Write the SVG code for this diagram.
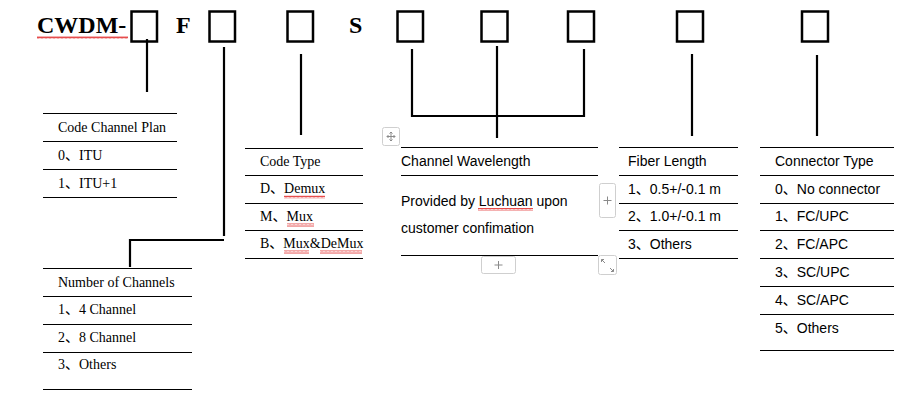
<svg xmlns="http://www.w3.org/2000/svg" width="922" height="402" viewBox="0 0 922 402">
<style>
.bg{fill:#ffffff}
.box{fill:none;stroke:#000;stroke-width:2.5}
.conn{fill:none;stroke:#000;stroke-width:2.2}
.rule{stroke:#000;stroke-width:1.2}
.title{font-family:"Liberation Serif","Times New Roman",serif;font-weight:bold;font-size:24px;fill:#000}
.serif{font-family:"Liberation Serif","Noto Sans CJK SC",serif;font-size:14px;fill:#000}
.sans{font-family:"Liberation Sans","Noto Sans CJK SC",sans-serif;font-size:14px;fill:#000}
.wavy{fill:url(#wave)}
.ui{fill:#fff;stroke:#cfcfcf;stroke-width:1}
.uimark{fill:none;stroke:#8a8a8a;stroke-width:1}
</style>
<defs>
<pattern id="wave" x="0" y="0" width="4" height="3" patternUnits="userSpaceOnUse">
<polyline points="0,2.5 1,0.5 2,2.5 3,0.5 4,2.5" fill="none" stroke="#e02020" stroke-width="0.8"/>
</pattern>
</defs>
<rect class="bg" x="0" y="0" width="922" height="402"/>

<g id="title">
<text class="title" x="37" y="33">CWDM-</text>
<rect class="wavy" x="37" y="36" width="91" height="3"/>
<text class="title" x="176" y="33">F</text>
<text class="title" x="349" y="33">S</text>
</g>

<g id="box1"><rect class="box" x="131.5" y="11.5" width="25.5" height="30"/></g>
<g id="box2"><rect class="box" x="209.5" y="11.5" width="25.5" height="30"/></g>
<g id="box3"><rect class="box" x="287.5" y="11.5" width="25.5" height="30"/></g>
<g id="box4"><rect class="box" x="397.5" y="11.5" width="25.5" height="30"/></g>
<g id="box5"><rect class="box" x="481.5" y="11.5" width="26" height="30"/></g>
<g id="box6"><rect class="box" x="568" y="11.5" width="26" height="30"/></g>
<g id="box7"><rect class="box" x="677" y="11.5" width="26" height="30"/></g>
<g id="box8"><rect class="box" x="802" y="11.5" width="26" height="30"/></g>

<g id="connectors">
<path class="conn" d="M147,39 V92"/>
<path class="conn" d="M224,47 V236"/>
<path class="conn" d="M224,240 H130 V267"/>
<path class="conn" d="M301,54 V135"/>
<path class="conn" d="M412,49 V116 H584 V49"/>
<path class="conn" d="M497,46 V138"/>
<path class="conn" d="M692,54 V136"/>
<path class="conn" d="M817,55 V136"/>
</g>

<g id="table-code-channel-plan">
<line class="rule" x1="43" y1="113.5" x2="177" y2="113.5"/>
<line class="rule" x1="43" y1="141.5" x2="177" y2="141.5"/>
<line class="rule" x1="43" y1="169.5" x2="177" y2="169.5"/>
<line class="rule" x1="43" y1="197.5" x2="177" y2="197.5"/>
<text class="serif" x="58" y="132">Code Channel Plan</text>
<text class="serif" x="58" y="160">0、ITU</text>
<text class="serif" x="58" y="188">1、ITU+1</text>
</g>

<g id="table-number-of-channels">
<line class="rule" x1="43" y1="268.5" x2="192" y2="268.5"/>
<line class="rule" x1="43" y1="296.5" x2="192" y2="296.5"/>
<line class="rule" x1="43" y1="324.5" x2="192" y2="324.5"/>
<line class="rule" x1="43" y1="352.5" x2="192" y2="352.5"/>
<line class="rule" x1="43" y1="389.5" x2="192" y2="389.5"/>
<text class="serif" x="58" y="287">Number of Channels</text>
<text class="serif" x="58" y="314">1、4 Channel</text>
<text class="serif" x="58" y="342">2、8 Channel</text>
<text class="serif" x="58" y="369">3、Others</text>
</g>

<g id="table-code-type">
<line class="rule" x1="245" y1="148.5" x2="363" y2="148.5"/>
<line class="rule" x1="245" y1="175.5" x2="363" y2="175.5"/>
<line class="rule" x1="245" y1="203.5" x2="363" y2="203.5"/>
<line class="rule" x1="245" y1="230.5" x2="363" y2="230.5"/>
<line class="rule" x1="245" y1="258.5" x2="363" y2="258.5"/>
<text class="serif" x="260" y="166">Code Type</text>
<text class="serif" x="260" y="193">D、Demux</text>
<text class="serif" x="260" y="221">M、Mux</text>
<text class="serif" x="260" y="248">B、Mux&amp;DeMux</text>
<rect class="wavy" x="284" y="195.5" width="41" height="3"/>
<rect class="wavy" x="287" y="223.5" width="27" height="3"/>
<rect class="wavy" x="284" y="250.5" width="25" height="3"/>
<rect class="wavy" x="320" y="250.5" width="42" height="3"/>
</g>

<g id="table-channel-wavelength">
<line class="rule" x1="401" y1="147.5" x2="598" y2="147.5"/>
<line class="rule" x1="401" y1="175.5" x2="598" y2="175.5"/>
<line class="rule" x1="401" y1="255.5" x2="598" y2="255.5"/>
<text class="sans" x="401" y="166">Channel Wavelength</text>
<text class="sans" x="401" y="206">Provided by Luchuan upon</text>
<text class="sans" x="401" y="233">customer confimation</text>
<rect class="wavy" x="478" y="208" width="55" height="3"/>
</g>

<g id="table-fiber-length">
<line class="rule" x1="619" y1="147.5" x2="738" y2="147.5"/>
<line class="rule" x1="619" y1="175.5" x2="738" y2="175.5"/>
<line class="rule" x1="619" y1="203.5" x2="738" y2="203.5"/>
<line class="rule" x1="619" y1="230.5" x2="738" y2="230.5"/>
<line class="rule" x1="619" y1="258.5" x2="738" y2="258.5"/>
<text class="sans" x="628" y="166">Fiber Length</text>
<text class="sans" x="628" y="194">1、0.5+/-0.1 m</text>
<text class="sans" x="628" y="221">2、1.0+/-0.1 m</text>
<text class="sans" x="628" y="249">3、Others</text>
</g>

<g id="table-connector-type">
<line class="rule" x1="760" y1="147.5" x2="894" y2="147.5"/>
<line class="rule" x1="760" y1="175.5" x2="894" y2="175.5"/>
<line class="rule" x1="760" y1="203.5" x2="894" y2="203.5"/>
<line class="rule" x1="760" y1="230.5" x2="894" y2="230.5"/>
<line class="rule" x1="760" y1="258.5" x2="894" y2="258.5"/>
<line class="rule" x1="760" y1="286.5" x2="894" y2="286.5"/>
<line class="rule" x1="760" y1="314.5" x2="894" y2="314.5"/>
<line class="rule" x1="760" y1="350.5" x2="894" y2="350.5"/>
<text class="sans" x="775" y="166">Connector Type</text>
<text class="sans" x="775" y="194">0、No connector</text>
<text class="sans" x="775" y="221">1、FC/UPC</text>
<text class="sans" x="775" y="249">2、FC/APC</text>
<text class="sans" x="775" y="277">3、SC/UPC</text>
<text class="sans" x="775" y="305">4、SC/APC</text>
<text class="sans" x="775" y="333">5、Others</text>
</g>

<g id="editor-handles">
<rect class="ui" x="382.5" y="127.5" width="17" height="18" rx="2"/>
<path class="uimark" d="M387,136.5 H395 M391,132 V141 M389.5,133.5 L391,132 L392.5,133.5 M389.5,139.5 L391,141 L392.5,139.5 M388.5,135 L387,136.5 L388.5,138 M393.5,135 L395,136.5 L393.5,138"/>
<rect class="ui" x="599.5" y="183.5" width="16" height="34" rx="2"/>
<path class="uimark" d="M603.5,200.5 H611.5 M607.5,196.5 V204.5"/>
<rect class="ui" x="481.5" y="256.5" width="34" height="17" rx="2"/>
<path class="uimark" d="M494.5,265 H502.5 M498.5,261 V269"/>
<rect class="ui" x="598.5" y="255.5" width="18" height="19" rx="2"/>
<path class="uimark" d="M601.5,259.5 L605,263 M601.5,259.5 V262 M601.5,259.5 H604 M613.5,271.5 L610,268 M613.5,271.5 V269 M613.5,271.5 H611"/>
</g>
</svg>
